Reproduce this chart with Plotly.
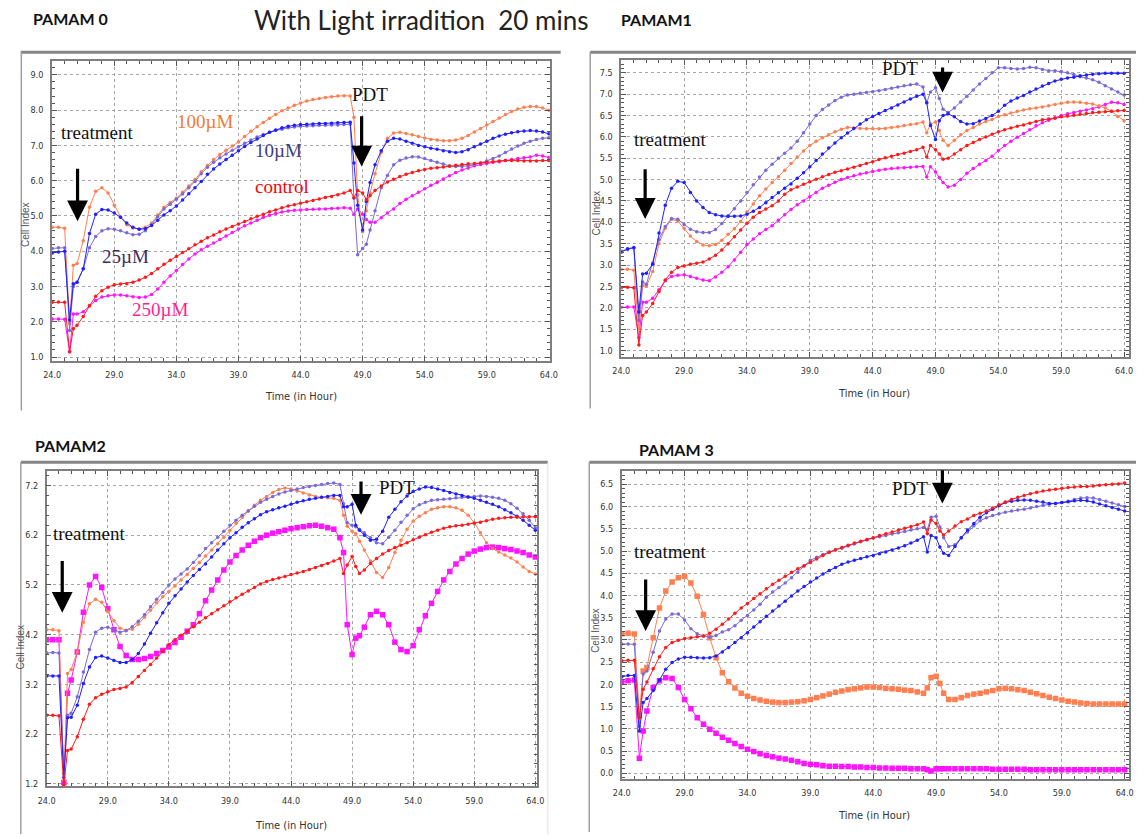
import plotly.graph_objects as go

# ---------------- data (time in hours, Cell Index values) -------------
T = [24.0, 24.5, 25.0, 25.4, 25.7, 26.0, 26.5, 27.0, 27.5, 28.0,
     28.5, 29.0, 29.5, 30.0, 30.5, 31.0, 31.5, 32.0, 32.5, 33.0,
     33.5, 34.0, 34.5, 35.0, 35.5, 36.0, 36.5, 37.0, 37.5, 38.0,
     38.5, 39.0, 39.5, 40.0, 40.5, 41.0, 41.5, 42.0, 42.5, 43.0,
     43.5, 44.0, 44.5, 45.0, 45.5, 46.0, 46.5, 47.0, 47.5, 48.0,
     48.3, 48.6, 49.0, 49.3, 49.6, 50.0, 50.5, 51.0, 51.5, 52.0,
     52.5, 53.0, 53.5, 54.0, 54.5, 55.0, 55.5, 56.0, 56.5, 57.0,
     57.5, 58.0, 58.5, 59.0, 59.5, 60.0, 60.5, 61.0, 61.5, 62.0,
     62.5, 63.0, 63.5, 64.0]

# PAMAM 0
P0_control = [2.55, 2.56, 2.55, 1.15, 1.80, 1.90, 2.15, 2.45, 2.72, 2.88,
              2.98, 3.05, 3.07, 3.08, 3.12, 3.18, 3.26, 3.37, 3.50, 3.63,
              3.74, 3.85, 3.96, 4.07, 4.18, 4.28, 4.38, 4.46, 4.55, 4.63,
              4.70, 4.77, 4.84, 4.92, 4.99, 5.05, 5.12, 5.17, 5.23, 5.28,
              5.32, 5.36, 5.40, 5.44, 5.48, 5.52, 5.55, 5.60, 5.65, 5.72,
              5.52, 5.72, 5.65, 5.46, 5.58, 5.72, 5.85, 5.96, 6.04, 6.12,
              6.18, 6.23, 6.28, 6.32, 6.35, 6.37, 6.39, 6.41, 6.44, 6.46,
              6.48, 6.49, 6.50, 6.52, 6.54, 6.56, 6.57, 6.57, 6.57, 6.56,
              6.56, 6.56, 6.57, 6.57]
P0_10uM = [3.95, 3.98, 4.00, 2.05, 3.08, 3.12, 3.50, 4.50, 5.05, 5.18,
           5.17, 5.08, 4.96, 4.80, 4.68, 4.62, 4.64, 4.73, 4.88, 5.03,
           5.15, 5.28, 5.45, 5.63, 5.80, 5.98, 6.18, 6.33, 6.47, 6.60,
           6.72, 6.85, 6.97, 7.08, 7.18, 7.28, 7.37, 7.44, 7.50, 7.54,
           7.57, 7.59, 7.60, 7.61, 7.62, 7.62, 7.63, 7.64, 7.65, 7.66,
           6.50, 5.30, 4.60, 5.41, 5.95, 6.45, 6.85, 7.12, 7.20, 7.18,
           7.12, 7.06, 7.00, 6.96, 6.92, 6.89, 6.85, 6.82, 6.80, 6.82,
           6.88, 6.96, 7.04, 7.12, 7.20, 7.27, 7.32, 7.36, 7.39, 7.41,
           7.42, 7.41, 7.38, 7.33]
P0_25uM = [4.08, 4.10, 4.10, 1.75, 3.00, 3.12, 3.50, 4.10, 4.42, 4.58,
           4.64, 4.62, 4.58, 4.52, 4.47, 4.48, 4.58, 4.75, 4.98, 5.20,
           5.33, 5.47, 5.62, 5.80, 5.98, 6.20, 6.38, 6.52, 6.65, 6.76,
           6.86, 6.96, 7.06, 7.15, 7.24, 7.31, 7.37, 7.42, 7.46, 7.50,
           7.52, 7.54, 7.55, 7.56, 7.57, 7.57, 7.58, 7.58, 7.59, 7.60,
           5.50, 3.90, 4.08, 4.20, 4.60, 5.15, 5.80, 6.15, 6.45, 6.58,
           6.64, 6.68, 6.67, 6.63, 6.57, 6.52, 6.47, 6.42, 6.40, 6.40,
           6.42, 6.45, 6.50, 6.56, 6.63, 6.70, 6.80, 6.90, 6.98, 7.06,
           7.12, 7.17, 7.20, 7.22]
P0_100uM = [4.68, 4.68, 4.65, 1.95, 3.60, 3.65, 4.30, 5.25, 5.70, 5.80,
            5.65, 5.30, 4.98, 4.75, 4.66, 4.63, 4.68, 4.80, 5.03, 5.25,
            5.38, 5.50, 5.67, 5.85, 6.03, 6.25, 6.43, 6.60, 6.74, 6.86,
            6.98, 7.10, 7.25, 7.40, 7.53, 7.65, 7.77, 7.88, 7.98, 8.06,
            8.14, 8.20, 8.26, 8.30, 8.33, 8.36, 8.38, 8.40, 8.41, 8.40,
            7.80, 5.60, 4.55, 5.15, 5.65, 6.20, 6.80, 7.20, 7.35, 7.37,
            7.34, 7.30, 7.25, 7.21, 7.17, 7.15, 7.13, 7.13, 7.15, 7.20,
            7.28, 7.38, 7.48, 7.58, 7.68, 7.78, 7.88, 7.96, 8.03, 8.08,
            8.10, 8.10, 8.06, 8.00]
P0_250uM = [2.08, 2.08, 2.07, 1.15, 2.22, 2.22, 2.28, 2.45, 2.60, 2.70,
            2.74, 2.76, 2.76, 2.74, 2.71, 2.69, 2.70, 2.77, 2.93, 3.12,
            3.30, 3.45, 3.62, 3.78, 3.92, 4.04, 4.14, 4.23, 4.33, 4.43,
            4.53, 4.63, 4.72, 4.80, 4.88, 4.96, 5.02, 5.07, 5.11, 5.14,
            5.16, 5.17, 5.18, 5.19, 5.20, 5.20, 5.21, 5.22, 5.23, 5.22,
            5.05, 5.20, 5.05, 4.90, 4.82, 4.82, 4.95, 5.08, 5.20, 5.35,
            5.47, 5.57, 5.67, 5.77, 5.87, 5.95, 6.05, 6.14, 6.23, 6.30,
            6.36, 6.42, 6.46, 6.49, 6.52, 6.54, 6.57, 6.60, 6.63, 6.65,
            6.67, 6.72, 6.70, 6.66]

# PAMAM1
P1_control = [2.47, 2.48, 2.47, 1.13, 1.82, 1.90, 2.10, 2.38, 2.65, 2.83,
              2.94, 2.98, 3.02, 3.04, 3.07, 3.14, 3.23, 3.35, 3.50, 3.66,
              3.82, 3.98, 4.12, 4.23, 4.31, 4.39, 4.50, 4.66, 4.76, 4.83,
              4.89, 4.95, 5.01, 5.07, 5.12, 5.17, 5.21, 5.25, 5.29, 5.33,
              5.38, 5.42, 5.47, 5.51, 5.55, 5.59, 5.62, 5.66, 5.70, 5.76,
              5.53, 5.80, 5.70, 5.60, 5.48, 5.50, 5.60, 5.70, 5.80, 5.87,
              5.94, 6.00, 6.06, 6.12, 6.17, 6.21, 6.25, 6.28, 6.32, 6.36,
              6.40, 6.42, 6.44, 6.47, 6.49, 6.51, 6.53, 6.55, 6.57, 6.58,
              6.59, 6.60, 6.61, 6.62]
P1_10uM = [3.30, 3.38, 3.41, 1.90, 2.79, 2.81, 3.02, 3.75, 4.40, 4.80,
           4.96, 4.93, 4.70, 4.50, 4.35, 4.23, 4.18, 4.15, 4.14, 4.14,
           4.15, 4.19, 4.26, 4.35, 4.46, 4.58, 4.69, 4.80, 4.90, 5.03,
           5.16, 5.30, 5.45, 5.60, 5.74, 5.86, 5.98, 6.09, 6.20, 6.30,
           6.40, 6.48, 6.55, 6.62, 6.68, 6.75, 6.82, 6.89, 6.95, 7.00,
           6.80, 6.27, 5.94, 6.38, 6.50, 6.54, 6.47, 6.36, 6.30, 6.31,
           6.37, 6.43, 6.50, 6.60, 6.74, 6.84, 6.91, 6.97, 7.05, 7.12,
           7.19, 7.25, 7.31, 7.35, 7.38, 7.40, 7.43, 7.45, 7.47, 7.48,
           7.49, 7.49, 7.49, 7.49]
P1_25uM = [3.33, 3.36, 3.40, 1.70, 2.60, 2.55, 3.05, 3.60, 3.90, 4.09,
           4.07, 3.95, 3.84, 3.78, 3.76, 3.76, 3.83, 3.97, 4.15, 4.32,
           4.50, 4.70, 4.88, 5.06, 5.22, 5.36, 5.50, 5.62, 5.74, 5.90,
           6.10, 6.30, 6.50, 6.64, 6.75, 6.85, 6.93, 6.98, 7.00, 7.02,
           7.04, 7.06, 7.08, 7.11, 7.14, 7.17, 7.20, 7.22, 7.24, 7.17,
           6.80, 7.05, 7.15, 6.90, 6.65, 6.57, 6.68, 6.82, 6.95, 7.10,
           7.24, 7.37, 7.50, 7.62, 7.62, 7.60, 7.59, 7.60, 7.63, 7.62,
           7.58, 7.55, 7.55, 7.53, 7.50, 7.46, 7.41, 7.38, 7.34, 7.28,
           7.20, 7.12, 7.05, 6.98]
P1_100uM = [2.90, 2.90, 2.88, 1.50, 2.52, 2.50, 2.85, 3.50, 3.86, 4.07,
            4.03, 3.86, 3.68, 3.55, 3.47, 3.45, 3.48, 3.58, 3.72, 3.85,
            4.02, 4.24, 4.43, 4.62, 4.78, 4.93, 5.07, 5.22, 5.38, 5.53,
            5.67, 5.80, 5.90, 5.98, 6.05, 6.12, 6.18, 6.22, 6.21, 6.20,
            6.19, 6.19, 6.19, 6.20, 6.22, 6.24, 6.27, 6.29, 6.31, 6.35,
            6.10, 6.30, 6.35, 6.15, 5.92, 5.80, 5.92, 6.05, 6.15, 6.22,
            6.30, 6.36, 6.41, 6.48, 6.52, 6.56, 6.60, 6.63, 6.66, 6.68,
            6.70, 6.73, 6.76, 6.79, 6.81, 6.82, 6.81, 6.79, 6.77, 6.73,
            6.68, 6.60, 6.48, 6.38]
P1_250uM = [2.01, 2.02, 2.02, 1.30, 2.13, 2.13, 2.22, 2.42, 2.63, 2.73,
            2.76, 2.77, 2.73, 2.69, 2.65, 2.63, 2.72, 2.83, 2.96, 3.12,
            3.30, 3.48, 3.61, 3.73, 3.83, 3.92, 4.05, 4.18, 4.30, 4.41,
            4.50, 4.60, 4.70, 4.80, 4.87, 4.94, 5.00, 5.05, 5.09, 5.13,
            5.16, 5.19, 5.22, 5.24, 5.26, 5.27, 5.28, 5.29, 5.30, 5.31,
            5.06, 5.30, 5.18, 5.05, 4.93, 4.83, 4.87, 5.00, 5.15, 5.26,
            5.36, 5.45, 5.55, 5.68, 5.80, 5.90, 5.99, 6.08, 6.17, 6.26,
            6.33, 6.39, 6.45, 6.50, 6.54, 6.57, 6.60, 6.63, 6.66, 6.70,
            6.76, 6.81, 6.80, 6.76]

# PAMAM2
P2_control = [2.58, 2.58, 2.57, 1.17, 1.87, 1.90, 2.15, 2.50, 2.80, 2.93,
              3.00, 3.05, 3.10, 3.12, 3.15, 3.24, 3.36, 3.48, 3.60, 3.73,
              3.86, 4.00, 4.10, 4.19, 4.27, 4.36, 4.45, 4.54, 4.62, 4.70,
              4.78, 4.86, 4.94, 5.01, 5.08, 5.15, 5.22, 5.27, 5.31, 5.34,
              5.37, 5.41, 5.44, 5.47, 5.51, 5.55, 5.59, 5.63, 5.68, 5.73,
              5.43, 5.60, 5.77, 5.57, 5.43, 5.50, 5.63, 5.73, 5.82, 5.89,
              5.95, 6.00, 6.05, 6.11, 6.16, 6.21, 6.26, 6.30, 6.34, 6.37,
              6.39, 6.40, 6.42, 6.44, 6.46, 6.49, 6.52, 6.54, 6.55, 6.56,
              6.56, 6.57, 6.57, 6.57]
P2_10uM = [3.37, 3.37, 3.37, 1.33, 2.53, 2.54, 2.78, 3.22, 3.55, 3.74,
           3.77, 3.73, 3.68, 3.64, 3.64, 3.70, 3.82, 4.01, 4.23, 4.44,
           4.64, 4.83, 4.98, 5.12, 5.26, 5.39, 5.51, 5.62, 5.76, 5.90,
           6.03, 6.15, 6.25, 6.36, 6.45, 6.53, 6.61, 6.67, 6.71, 6.75,
           6.78, 6.82, 6.86, 6.89, 6.92, 6.94, 6.96, 6.98, 7.00, 7.00,
           6.77, 6.77, 6.82, 6.40, 6.30, 6.20, 6.10, 6.12, 6.28, 6.56,
           6.72, 6.87, 6.99, 7.08, 7.13, 7.17, 7.16, 7.13, 7.10, 7.06,
           7.03, 7.00, 6.97, 6.94, 6.90, 6.86, 6.82, 6.77, 6.71, 6.65,
           6.58, 6.50, 6.40, 6.30]
P2_25uM = [3.83, 3.84, 3.83, 1.40, 2.58, 2.62, 2.95, 3.45, 3.90, 4.25,
           4.33, 4.35, 4.30, 4.25, 4.28, 4.36, 4.47, 4.60, 4.76, 4.91,
           5.05, 5.20, 5.32, 5.42, 5.52, 5.65, 5.79, 5.93, 6.05, 6.16,
           6.28, 6.40, 6.50, 6.60, 6.69, 6.78, 6.86, 6.92, 6.98, 7.03,
           7.07, 7.10, 7.13, 7.16, 7.18, 7.20, 7.22, 7.24, 7.25, 7.22,
           6.83, 6.45, 6.40, 6.37, 6.32, 6.25, 6.15, 6.05, 6.03, 6.16,
           6.30, 6.46, 6.60, 6.73, 6.81, 6.86, 6.90, 6.91, 6.92, 6.93,
           6.95, 6.96, 6.97, 6.98, 6.99, 6.98, 6.96, 6.94, 6.90, 6.83,
           6.74, 6.63, 6.50, 6.35]
P2_100uM = [4.30, 4.30, 4.28, 1.27, 3.42, 3.50, 3.85, 4.45, 4.82, 4.91,
            4.85, 4.66, 4.48, 4.33, 4.29, 4.31, 4.41, 4.55, 4.69, 4.84,
            4.96, 5.07, 5.18, 5.30, 5.41, 5.53, 5.65, 5.78, 5.90, 6.03,
            6.16, 6.30, 6.44, 6.56, 6.68, 6.80, 6.90, 6.98, 7.06, 7.12,
            7.15, 7.13, 7.09, 7.05, 7.01, 6.98, 6.96, 6.95, 6.94, 6.90,
            6.60, 6.38, 6.28, 6.23, 6.08, 5.90, 5.68, 5.45, 5.35, 5.55,
            5.85, 6.10, 6.32, 6.48, 6.58, 6.65, 6.72, 6.75, 6.77, 6.77,
            6.75, 6.70, 6.60, 6.45, 6.25, 6.05, 5.93, 5.86, 5.80, 5.74,
            5.66, 5.56, 5.47, 5.42]
P2_250uM = [4.10, 4.10, 4.10, 1.23, 3.02, 3.29, 3.85, 4.65, 5.20, 5.37,
            5.15, 4.72, 4.30, 3.96, 3.78, 3.70, 3.70, 3.72, 3.76, 3.82,
            3.88, 3.95, 4.04, 4.15, 4.27, 4.40, 4.62, 4.88, 5.10, 5.30,
            5.50, 5.66, 5.79, 5.90, 6.00, 6.08, 6.15, 6.20, 6.24, 6.27,
            6.30, 6.33, 6.35, 6.37, 6.39, 6.40, 6.38, 6.35, 6.32, 6.15,
            5.85, 4.40, 3.80, 4.13, 4.18, 4.35, 4.60, 4.67, 4.60, 4.40,
            4.05, 3.90, 3.86, 3.98, 4.30, 4.58, 4.83, 5.07, 5.30, 5.47,
            5.62, 5.73, 5.82, 5.88, 5.92, 5.95, 5.96, 5.95, 5.93, 5.91,
            5.88, 5.85, 5.80, 5.76]

# PAMAM 3
P3_control = [2.53, 2.54, 2.54, 1.25, 1.89, 2.05, 2.35, 2.62, 2.83, 2.94,
              2.99, 3.03, 3.05, 3.07, 3.09, 3.15, 3.24, 3.35, 3.47, 3.60,
              3.72, 3.82, 3.93, 4.04, 4.15, 4.25, 4.34, 4.43, 4.52, 4.60,
              4.67, 4.74, 4.82, 4.90, 4.97, 5.03, 5.08, 5.13, 5.18, 5.22,
              5.26, 5.30, 5.35, 5.39, 5.43, 5.47, 5.51, 5.55, 5.59, 5.65,
              5.39, 5.70, 5.62, 5.45, 5.36, 5.45, 5.56, 5.66, 5.72, 5.80,
              5.85, 5.90, 5.97, 6.04, 6.10, 6.16, 6.21, 6.25, 6.29, 6.32,
              6.35, 6.37, 6.39, 6.41, 6.43, 6.44, 6.45, 6.45, 6.46, 6.48,
              6.49, 6.50, 6.51, 6.53]
P3_10uM = [2.17, 2.20, 2.20, 0.95, 1.59, 1.68, 1.86, 2.10, 2.34, 2.49,
           2.57, 2.61, 2.61, 2.60, 2.59, 2.60, 2.64, 2.73, 2.83, 2.94,
           3.05, 3.16, 3.29, 3.41, 3.53, 3.65, 3.76, 3.87, 3.99, 4.10,
           4.20, 4.30, 4.39, 4.48, 4.56, 4.63, 4.70, 4.75, 4.79, 4.83,
           4.87, 4.90, 4.94, 4.98, 5.02, 5.07, 5.12, 5.18, 5.24, 5.32,
           4.98, 5.35, 5.30, 5.09, 4.95, 4.90, 5.10, 5.30, 5.47, 5.62,
           5.76, 5.86, 5.94, 6.02, 6.09, 6.12, 6.14, 6.15, 6.14, 6.12,
           6.10, 6.07, 6.07, 6.09, 6.11, 6.13, 6.14, 6.13, 6.10, 6.06,
           6.02, 5.98, 5.94, 5.90]
P3_25uM = [2.91, 2.91, 2.90, 1.05, 2.23, 2.30, 2.72, 3.20, 3.47, 3.58,
           3.58, 3.45, 3.25, 3.14, 3.09, 3.06, 3.10, 3.18, 3.23, 3.32,
           3.44, 3.55, 3.67, 3.80, 3.96, 4.08, 4.18, 4.28, 4.40, 4.52,
           4.66, 4.79, 4.86, 4.92, 4.98, 5.02, 5.06, 5.11, 5.16, 5.21,
           5.25, 5.29, 5.32, 5.35, 5.38, 5.41, 5.44, 5.47, 5.50, 5.53,
           5.48, 5.76, 5.78, 5.54, 5.30, 5.10, 5.14, 5.30, 5.43, 5.57,
           5.68, 5.75, 5.80, 5.84, 5.87, 5.90, 5.92, 5.94, 5.97, 6.00,
           6.03, 6.05, 6.07, 6.09, 6.12, 6.16, 6.19, 6.20, 6.19, 6.16,
           6.12, 6.08, 6.04, 6.00]
P3_100uM = [3.14, 3.15, 3.13, 1.30, 2.30, 2.38, 3.05, 3.72, 4.10, 4.30,
            4.40, 4.43, 4.28, 3.98, 3.57, 3.05, 2.60, 2.26, 2.06, 1.92,
            1.80, 1.73, 1.68, 1.65, 1.62, 1.60, 1.59, 1.59, 1.60, 1.61,
            1.63, 1.66, 1.70, 1.74, 1.78, 1.82, 1.85, 1.88, 1.90, 1.92,
            1.94, 1.94, 1.93, 1.91, 1.90, 1.89, 1.87, 1.86, 1.83, 1.80,
            1.92, 2.15, 2.18, 2.02, 1.80, 1.66, 1.66, 1.70, 1.75, 1.78,
            1.80, 1.83, 1.86, 1.90, 1.91, 1.90, 1.88, 1.86, 1.82, 1.79,
            1.75, 1.71, 1.68, 1.65, 1.62, 1.60, 1.58, 1.57, 1.56, 1.56,
            1.56, 1.56, 1.56, 1.56]
P3_250uM = [2.05, 2.08, 2.10, 0.34, 0.95, 1.40, 1.93, 2.08, 2.15, 2.13,
            1.93, 1.66, 1.45, 1.25, 1.10, 0.99, 0.90, 0.81, 0.74, 0.67,
            0.60, 0.54, 0.49, 0.44, 0.40, 0.37, 0.34, 0.32, 0.29, 0.26,
            0.22, 0.20, 0.19, 0.17, 0.16, 0.16, 0.15, 0.15, 0.14, 0.14,
            0.13, 0.13, 0.12, 0.12, 0.11, 0.11, 0.11, 0.10, 0.10, 0.10,
            0.08, 0.05, 0.10, 0.10, 0.10, 0.10, 0.10, 0.10, 0.10, 0.10,
            0.10, 0.10, 0.09, 0.09, 0.09, 0.09, 0.09, 0.09, 0.08, 0.08,
            0.08, 0.08, 0.08, 0.08, 0.08, 0.08, 0.08, 0.08, 0.08, 0.08,
            0.08, 0.08, 0.08, 0.08]

SERIES_NAMES = ["250µM", "100µM", "25µM", "10µM", "control"]
PANEL_TITLES = ["PAMAM 0", "PAMAM1", "PAMAM2", "PAMAM 3"]
X_TICKS = [24, 29, 34, 39, 44, 49, 54, 59, 64]

PANEL_DATA = [
    {"control": P0_control, "10µM": P0_10uM, "25µM": P0_25uM, "100µM": P0_100uM, "250µM": P0_250uM},
    {"control": P1_control, "10µM": P1_10uM, "25µM": P1_25uM, "100µM": P1_100uM, "250µM": P1_250uM},
    {"control": P2_control, "10µM": P2_10uM, "25µM": P2_25uM, "100µM": P2_100uM, "250µM": P2_250uM},
    {"control": P3_control, "10µM": P3_10uM, "25µM": P3_25uM, "100µM": P3_100uM, "250µM": P3_250uM},
]
for d in PANEL_DATA:
    for k, v in d.items():
        assert len(v) == len(T), (k, len(v))

# ---------------- styling / layout constants -------------
W, H = 1144, 837
def fx(x):
    return x / W
def fy(y):
    return 1 - y / H

COLORS = {"control": "#ff1a1a", "10µM": "#2020ff", "25µM": "#7a6ad8",
          "100µM": "#ff7f50", "250µM": "#ff14ff"}
BIG_MARKERS = [set(), set(), {"250µM"}, {"100µM", "250µM"}]

PANELS = [
    dict(box=(43.5, 61, 549, 362), xr=[23.97, 64.08], yr=[0.895, 9.40], t0=1.0, dt=1.0, mdt=0.2,
         title=(22, 18.5), cell=(16, 226), time=(296, 398),
         frame_top=(12, 560, 52.5), frame_left=(12.5, 52, 412)),
    dict(box=(621.5, 60.7, 1137, 358), xr=[24.0, 64.4], yr=[0.853, 7.79], t0=1.0, dt=0.5, mdt=0.1,
         title=(619, 20), cell=(596, 214), time=(878, 395),
         frame_top=(590, 1144, 52.5), frame_left=(590, 52, 410)),
    dict(box=(38.3, 472.7, 536, 789), xr=[24.0, 64.14], yr=[1.154, 7.49], t0=1.2, dt=1.0, mdt=0.2,
         title=(24, 447.5), cell=(12, 650), time=(286, 828),
         frame_top=(12, 547, 464), frame_left=(12, 464, 837)),
    dict(box=(622, 472.7, 1137, 781.5), xr=[24.0, 64.35], yr=[-0.123, 6.80], t0=0.0, dt=0.5, mdt=0.1,
         title=(637, 451), cell=(596, 633), time=(878, 818),
         frame_top=(589, 1144, 464), frame_left=(589, 464, 835)),
]

# text labels inside plots (data coordinates)
TREAT = [(27.6, 7.37), (27.88, 5.95), (27.44, 6.24), (27.87, 5.0)]
TREAT_ARROW = [(26.04, 4.85, 6.38), (25.9, 4.08, 5.28), (25.27, 4.64, 5.71), (25.9, 3.2, 4.39)]
PDT = [(49.6, 8.43), (46.14, 7.6), (52.7, 7.15), (46.9, 6.41)]
PDT_ARROW = [(48.92, 6.4, 7.87), (49.56, 7.04, 7.66), (49.73, 6.61, 7.31), (49.5, 6.07, 6.85)]
CONC_LABELS = [("100µM", 36.3, 7.68, "#f07a3a"), ("10µM", 42.2, 6.86, "#3d3d7a"),
               ("control", 42.5, 5.84, "#ff0000"), ("25µM", 29.9, 3.86, "#3b2e5c"),
               ("250µM", 32.7, 2.36, "#ff1f8f")]

SERIF = "Liberation Serif, Times New Roman, serif"
NARROW = "DejaVu Sans Condensed, Liberation Sans Narrow, Arial Narrow, sans-serif"
TICKFONT = dict(family=NARROW, size=9, color="#333333")

fig = go.Figure()
annotations = []
shapes = []
layout = {}

for i, (p, data) in enumerate(zip(PANELS, PANEL_DATA)):
    sfx = "" if i == 0 else str(i + 1)
    xa, ya = "x" + sfx, "y" + sfx
    for name in SERIES_NAMES:
        big = name in BIG_MARKERS[i]
        fig.add_trace(go.Scatter(
            x=T, y=data[name], xaxis=xa, yaxis=ya, mode="lines+markers", name=name,
            line=dict(color=COLORS[name], width=1),
            marker=dict(color=COLORS[name], size=5.5 if big else 3.5,
                        symbol="square" if big else "circle", line=dict(width=0)),
            showlegend=False, hoverinfo="skip"))

    x0, y0, x1, y1 = p["box"]
    common = dict(showline=True, linecolor="#7f7f7f", linewidth=1.5, mirror="allticks",
                  ticks="inside", ticklen=5, tickwidth=1, tickcolor="#555555",
                  showgrid=True, gridcolor="#a6a6a6", griddash="dot", gridwidth=1,
                  zeroline=False, tickfont=TICKFONT, ticklabelstandoff=5)
    layout["xaxis" + sfx] = dict(domain=[fx(x0), fx(x1)], range=p["xr"], anchor=ya,
                                 tickmode="array", tickvals=X_TICKS,
                                 ticktext=[f"{v:.1f}" for v in X_TICKS],
                                 minor=dict(ticks="inside", ticklen=3, tickmode="linear", tick0=24,
                                            dtick=1, tickcolor="#555555", showgrid=False),
                                 **common)
    layout["yaxis" + sfx] = dict(domain=[fy(y1), fy(y0)], range=p["yr"], anchor=xa,
                                 tickmode="linear", tick0=p["t0"], dtick=p["dt"], tickformat=".1f",
                                 minor=dict(ticks="inside", ticklen=3, tickmode="linear", tick0=p["t0"],
                                            dtick=p["mdt"], tickcolor="#555555", showgrid=False),
                                 **common)

    # panel title
    tx, ty = p["title"]
    annotations.append(dict(text=PANEL_TITLES[i], x=fx(tx), y=fy(ty), xref="paper", yref="paper",
                            xanchor="left", yanchor="middle", showarrow=False,
                            font=dict(family="Lato, Liberation Sans, sans-serif", size=16,
                                      color="#111111", weight="bold")))
    # axis titles
    cx, cy = p["cell"]
    annotations.append(dict(text="Cell Index", x=fx(cx), y=fy(cy), xref="paper", yref="paper",
                            textangle=-90, showarrow=False, xanchor="center", yanchor="middle",
                            font=dict(family="Liberation Sans, Arial, sans-serif", size=10,
                                      color="#555555")))
    mx, my = p["time"]
    annotations.append(dict(text="Time (in Hour)", x=fx(mx), y=fy(my), xref="paper", yref="paper",
                            showarrow=False, xanchor="center", yanchor="middle",
                            font=dict(family=NARROW, size=11, color="#333333")))
    # frames
    fx0, fx1, fyt = p["frame_top"]
    shapes.append(dict(type="line", xref="paper", yref="paper", x0=fx(fx0), x1=fx(fx1),
                       y0=fy(fyt), y1=fy(fyt), line=dict(color="#858585", width=3)))
    lx, ly0, ly1 = p["frame_left"]
    shapes.append(dict(type="line", xref="paper", yref="paper", x0=fx(lx), x1=fx(lx),
                       y0=fy(ly0), y1=fy(ly1), line=dict(color="#a0a0a0", width=1.5)))

    # treatment / PDT labels and arrows
    tx_, ty_ = TREAT[i]
    annotations.append(dict(text="treatment", x=tx_, y=ty_, xref=xa, yref=ya, showarrow=False,
                            xanchor="center", yanchor="middle",
                            font=dict(family=SERIF, size=19, color="#111111")))
    ax_, tip, tail = TREAT_ARROW[i]
    annotations.append(dict(text="", x=ax_, y=tip, ax=ax_, ay=tail, xref=xa, yref=ya,
                            axref=xa, ayref=ya, showarrow=True, arrowhead=2, arrowsize=1.3,
                            arrowwidth=3.2, arrowcolor="#000000", standoff=0))
    px_, py_ = PDT[i]
    annotations.append(dict(text="PDT", x=px_, y=py_, xref=xa, yref=ya, showarrow=False,
                            xanchor="center", yanchor="middle",
                            font=dict(family=SERIF, size=19, color="#111111")))
    ax_, tip, tail = PDT_ARROW[i]
    annotations.append(dict(text="", x=ax_, y=tip, ax=ax_, ay=tail, xref=xa, yref=ya,
                            axref=xa, ayref=ya, showarrow=True, arrowhead=2, arrowsize=1.3,
                            arrowwidth=3.2, arrowcolor="#000000", standoff=0))

for text, x, y, col in CONC_LABELS:
    annotations.append(dict(text=text, x=x, y=y, xref="x", yref="y", showarrow=False,
                            xanchor="center", yanchor="middle",
                            font=dict(family=SERIF, size=19, color=col)))

# main title
annotations.append(dict(text="With Light irradition\u00a0 20 mins", x=fx(418.5), y=fy(20),
                        xref="paper", yref="paper", showarrow=False, xanchor="center",
                        yanchor="middle",
                        font=dict(family="Lato, Liberation Sans, sans-serif", size=26,
                                  color="#222222")))

# faint right edge of the lower-left frame
shapes.append(dict(type="line", xref="paper", yref="paper", x0=fx(547), x1=fx(547),
                   y0=fy(464), y1=fy(837), line=dict(color="#e2e2e2", width=1)))

fig.update_layout(width=W, height=H, margin=dict(l=0, r=0, t=0, b=0),
                  paper_bgcolor="white", plot_bgcolor="white",
                  annotations=annotations, shapes=shapes, showlegend=False, **layout)

fig.write_html("out.html")
